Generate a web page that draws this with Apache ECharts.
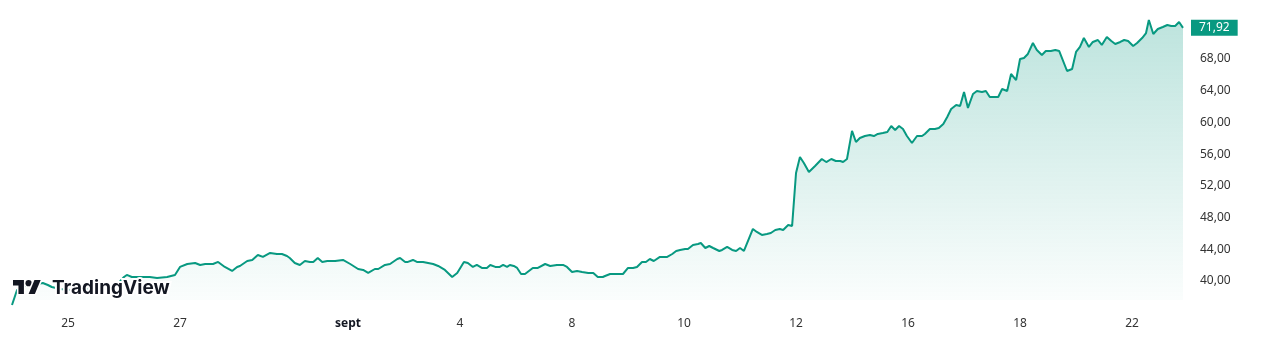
<!DOCTYPE html>
<html><head><meta charset="utf-8">
<script src="https://cdn.jsdelivr.net/npm/echarts@6/dist/echarts.min.js"></script>
<style>html,body{margin:0;padding:0;background:#fff}#c{width:1262px;height:344px}</style>
</head><body><div id="c"></div>
<script>
// time in trading days since the start of the 22 Aug session (25 Aug = 1, 2 Sept = 6, ...)
const times = [0.00,0.09,0.18,0.32,0.46,0.55,0.64,0.71,0.86,1.04,1.21,1.39,1.57,1.75,1.89,2.00,2.05,2.14,2.29,2.46,2.59,2.77,2.91,
3.00,3.13,3.27,3.36,3.45,3.59,3.68,3.80,3.93,4.02,4.07,4.20,4.29,4.39,4.48,4.61,4.73,4.82,4.91,4.96,5.05,5.14,5.23,5.32,5.38,5.46,5.54,5.63,5.77,5.91,
6.04,6.18,6.27,6.36,6.48,6.54,6.66,6.75,6.88,6.93,7.02,7.07,7.16,7.23,7.34,7.52,7.61,7.73,7.86,7.95,
8.07,8.14,8.23,8.30,8.39,8.48,8.54,8.63,8.71,8.77,8.84,8.89,8.96,9.02,9.09,9.16,9.30,9.39,9.52,9.61,9.73,9.84,9.91,
10.00,10.09,10.18,10.29,10.38,10.46,10.55,10.59,10.68,10.80,10.91,11.00,11.09,11.16,11.25,11.32,11.39,11.46,11.57,11.70,11.79,11.86,11.93,
12.02,12.07,12.16,12.25,12.30,12.38,12.45,12.52,12.63,12.68,12.77,12.86,12.93,13.00,13.07,13.23,13.30,13.39,13.48,13.55,13.63,13.71,13.77,13.86,13.93,
14.00,14.07,14.14,14.23,14.34,14.46,14.54,14.63,14.71,14.79,14.84,14.91,15.00,15.07,15.14,15.23,15.32,15.39,15.46,15.55,15.63,15.70,15.77,15.84,15.91,15.98,
16.07,16.16,16.25,16.30,16.39,16.48,16.55,16.63,16.70,16.77,16.86,16.93,17.00,17.07,17.16,17.23,17.32,17.39,17.46,17.54,17.61,17.68,17.77,17.84,17.93,
18.00,18.07,18.14,18.23,18.30,18.39,18.46,18.55,18.63,18.70,18.84,18.93,19.00,19.07,19.14,19.23,19.30,19.39,19.46,19.55,19.63,19.70,19.79,19.86,19.93,
20.02,20.09,20.18,20.25,20.30,20.38,20.46,20.55,20.63,20.70,20.77,20.84,20.91];
const prices = [36.97,38.86,39.30,39.49,39.62,39.75,39.49,39.24,38.98,38.86,38.86,38.98,38.98,39.11,39.62,40.50,40.76,40.50,40.50,40.50,40.38,40.50,40.76,
41.77,42.14,42.27,42.02,42.14,42.14,42.40,41.77,41.26,41.77,41.89,42.52,42.65,43.28,43.03,43.53,43.40,43.40,43.15,42.90,42.27,42.02,42.52,42.40,42.40,42.90,42.40,42.52,42.52,42.65,
42.14,41.51,41.39,41.01,41.51,41.51,42.02,42.14,42.77,42.90,42.40,42.40,42.65,42.40,42.40,42.14,41.89,41.39,40.50,41.01,
42.40,42.27,41.77,42.02,41.64,41.64,42.02,41.77,41.77,42.02,41.77,42.02,41.89,41.64,40.88,40.88,41.64,41.64,42.14,41.89,42.02,42.02,41.77,
41.14,41.26,41.14,41.01,41.01,40.50,40.50,40.63,40.88,40.88,40.88,41.64,41.64,41.77,42.40,42.40,42.77,42.52,43.03,43.03,43.40,43.78,43.91,
44.03,44.03,44.54,44.66,44.79,44.16,44.41,44.16,43.78,43.91,44.29,43.91,43.78,44.16,43.78,46.56,46.18,45.80,45.93,46.05,46.43,46.56,46.43,47.06,46.94,
53.62,55.63,54.88,53.74,54.50,55.38,55.00,55.38,55.13,55.13,55.00,55.38,58.92,57.53,58.03,58.28,58.41,58.28,58.54,58.66,58.79,59.55,59.04,59.55,59.17,58.28,
57.40,58.28,58.28,58.54,59.17,59.17,59.29,59.80,60.68,61.69,62.19,62.07,63.83,61.82,63.58,63.96,63.83,63.96,63.20,63.20,63.20,64.21,63.96,66.10,65.34,
67.99,68.12,68.63,70.01,69.13,68.50,69.00,69.00,69.13,69.00,66.48,66.73,68.88,69.51,70.64,69.51,70.14,70.39,69.76,70.77,70.26,69.89,70.14,70.39,70.26,
69.63,70.01,70.64,71.27,72.91,71.15,71.78,72.03,72.28,72.16,72.16,72.66,71.92];
const xTickValues = [1,3,6,8,10,12,14,16,18,20];
const xTickLabels = ['25','27','sept','4','8','10','12','16','18','22'];
const yTickValues = [40,44,48,52,56,60,64,68];

const fmt = v => v.toFixed(2).replace('.', ',');
const chart = echarts.init(document.getElementById('c'), null, {renderer:'canvas'});
const GREEN = '#089981';
const INK = '#131722';
const halo = {stroke:'#fff', lineWidth:4, strokeFirst:true, fill:INK};
const icon = {x:13, y:276.9, scaleX:0.78, scaleY:0.78, z:100, zlevel:0};
chart.setOption({
  animation:false,
  grid:{left:12, right:79, top:0, bottom:44},
  xAxis:{type:'value', min:0, max:20.91,
    axisLine:{show:false}, axisTick:{show:false}, splitLine:{show:false},
    axisLabel:{customValues:xTickValues, margin:18, color:'#333', fontSize:12, fontFamily:'Noto Sans',
      formatter: v => { const i = xTickValues.indexOf(v); if (i < 0) return ''; const s = xTickLabels[i]; return isNaN(+s) ? '{b|' + s + '}' : s; },
      rich:{b:{fontWeight:'bold', fontSize:12, fontFamily:'Noto Sans', color:INK}}}
  },
  yAxis:{type:'value', position:'right', min:37.6, max:75.434, scale:true,
    axisLine:{show:false}, axisTick:{show:false}, splitLine:{show:false},
    axisLabel:{customValues:yTickValues, formatter: v => fmt(v), margin:17, color:'#333', fontSize:12, fontFamily:'Noto Sans'}
  },
  series:[{type:'line', z:2, data: times.map((t,i)=>[t, prices[i]]), showSymbol:false, clip:false,
    lineStyle:{color:GREEN, width:2}, itemStyle:{color:GREEN},
    areaStyle:{origin:'start', color:new echarts.graphic.LinearGradient(0,0,0,1,[
      {offset:0, color:'rgba(8,153,129,0.38)'},{offset:1, color:'rgba(8,153,129,0.02)'}])},
    endLabel:{show:true, formatter: p => fmt(p.value[1]), backgroundColor:GREEN, color:'#fff',
      padding:[2,8,1,8], distance:8, fontSize:12, fontFamily:'Noto Sans', lineHeight:13}
  }],
  graphic:{elements:[
    Object.assign({type:'polygon', shape:{points:[[0,4],[14,4],[14,22],[7,22],[7,11],[0,11]]}, style:halo}, icon),
    Object.assign({type:'circle', shape:{cx:20, cy:8, r:4}, style:halo}, icon),
    Object.assign({type:'polygon', shape:{points:[[20,22],[27.5,4],[35.5,4],[28,22]]}, style:halo}, icon),
    {type:'text', x:52, y:288, z:100, style:{text:'TradingView', fill:INK, font:'bold 19px Inter', verticalAlign:'middle', stroke:'#fff', lineWidth:4, strokeFirst:true}}
  ]}
});
</script></body></html>
